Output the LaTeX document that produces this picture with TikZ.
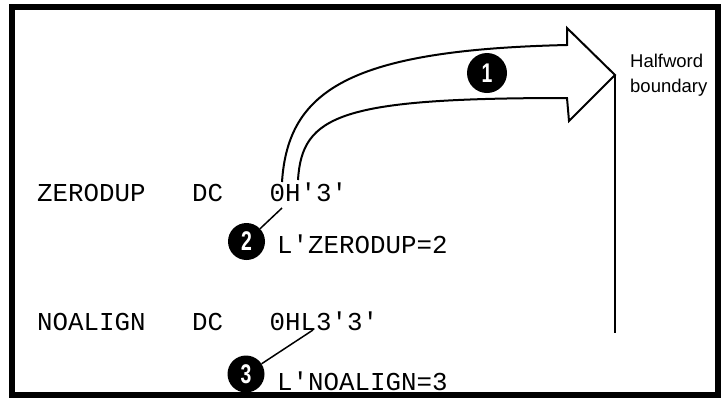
\documentclass[tikz,border=0pt]{standalone}
\usepackage{fontspec}
\setmainfont{Liberation Sans}
\setmonofont{Liberation Mono}
\usetikzlibrary{calc}

\tikzset{
  code/.style={font=\fontsize{25.8}{25.8}\selectfont\ttfamily, anchor=base west, inner sep=0pt},
  num/.style={circle, fill=black, text=white, inner sep=0pt, minimum size=37pt,
    font=\fontsize{27}{27}\selectfont\bfseries},
  leader/.style={line width=1.5pt},
}
\newcommand{\numtxt}[1]{\scalebox{0.72}[1]{#1}}

\begin{document}
\begin{tikzpicture}[x=1pt, y=-1pt]
\useasboundingbox (0,0) rectangle (726,400);
\draw[line width=6pt] (12,7) rectangle (718,395);

% Listing
\node[code] (zname) at (37,201) {ZERODUP};
\node[code] (zop) at (192,201) {DC};
\node[code] (zval) at (269.5,201) {0H'3'};
\node[code] (zlen) at (277,253) {L'ZERODUP=2};
\node[code] (nname) at (37,330) {NOALIGN};
\node[code] (nop) at (192,330) {DC};
\node[code] (nval) at (269.5,330) {0HL3'3'};
\node[code] (nlen) at (277,390) {L'NOALIGN=3};

% Arrow to the boundary
\coordinate (tip) at (615,75);
\coordinate (foot) at (615,333);
\draw[line width=2pt, line join=miter] (282,182) .. controls (288,90) and (350,50) .. (567,45)
  -- (567,28) -- (tip) -- (569,121) -- (567,98)
  .. controls (340,98) and (302,115) .. (298,180);
\draw[line width=2.5pt] (tip) -- (foot);
\node[anchor=north west, inner sep=0pt, align=left, font=\fontsize{18.5}{25}\selectfont]
  (hw) at (630,54) {Halfword\\boundary};

% Numbered marks
\node[num, minimum size=40pt] (n1) at (487,73) {\numtxt{1}};
\node[num] (n2) at (246.5,241.5) {\numtxt{2}};
\node[num] (n3) at (246,374) {\numtxt{3}};
\coordinate (h2) at (282,208);
\coordinate (h3) at (313,330);
\draw[leader] (n2) -- (h2);
\draw[leader] (n3) -- (h3);
\end{tikzpicture}
\end{document}
